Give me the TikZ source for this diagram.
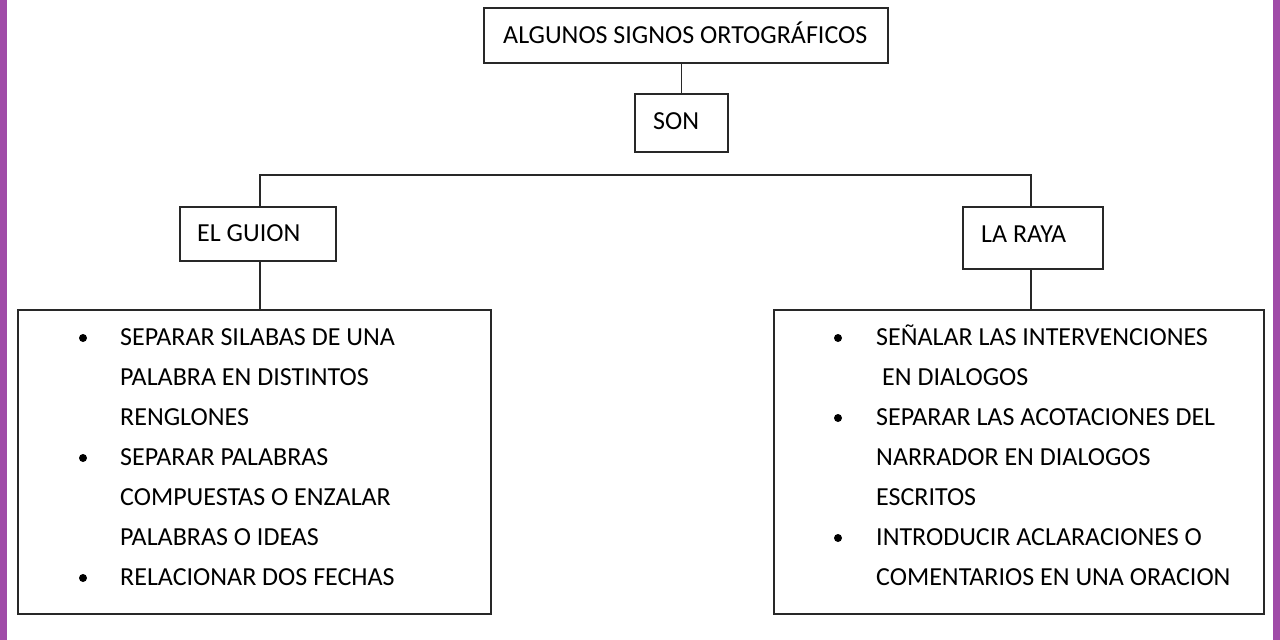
\documentclass[tikz,border=0pt]{standalone}
\usepackage{fontspec}
\setmainfont{Carlito}
\definecolor{bar}{RGB}{160,76,168}
\definecolor{ln}{RGB}{40,40,40}
\begin{document}
\begin{tikzpicture}[x=1pt,y=-1pt,
  box/.style={draw=ln,line width=1.7pt,rectangle,inner sep=0pt,anchor=north west},
  txt/.style={anchor=base west,inner sep=0pt,font=\fontsize{26}{30}\selectfont,text=black},
  conn/.style={draw=ln,line width=1.7pt},
  bul/.style={fill=black,circle,inner sep=0pt,minimum size=8pt}]
\useasboundingbox (0,0) rectangle (1280,640);
\fill[white] (0,0) rectangle (1280,640);
\fill[bar] (0,0) rectangle (7,640);
\fill[bar] (1273,0) rectangle (1280,640);
% boxes
\node[box,minimum width=404pt,minimum height=55pt] (top) at (483,7) {};
\node[box,minimum width=93pt,minimum height=58pt] (son) at (634,93) {};
\node[box,minimum width=156pt,minimum height=54pt] (guion) at (179,206) {};
\node[box,minimum width=140pt,minimum height=62pt] (raya) at (962,206) {};
\node[box,minimum width=473pt,minimum height=304pt] (lbox) at (17,309) {};
\node[box,minimum width=490pt,minimum height=304pt] (rbox) at (773,309) {};
% texts
\node[txt] (ttop) at (503,43) {ALGUNOS SIGNOS ORTOGRÁFICOS};
\node[txt] (tson) at (653,129) {SON};
\node[txt] (tguion) at (197,241) {EL GUION};
\node[txt] (traya) at (981,242) {LA RAYA};
% connectors
\coordinate (jl) at (260,175);
\coordinate (jr) at (1031,175);
\draw[conn] (son.north) -- (son.north |- top.south);
\draw[conn] (jl |- guion.north) -- (jl) -- (jr) -- (jr |- raya.north);
\draw[conn] (jl |- guion.south) -- (jl |- lbox.north);
\draw[conn] (jr |- raya.south) -- (jr |- rbox.north);
% left list
\node[bul] (lb1) at (83,338) {};
\node[bul] (lb2) at (83,458) {};
\node[bul] (lb3) at (83,578) {};
\node[txt] (l1) at (120,345) {SEPARAR SILABAS DE UNA};
\node[txt] (l2) at (120,385) {PALABRA EN DISTINTOS};
\node[txt] (l3) at (120,425) {RENGLONES};
\node[txt] (l4) at (120,465) {SEPARAR PALABRAS};
\node[txt] (l5) at (120,505) {COMPUESTAS O ENZALAR};
\node[txt] (l6) at (120,545) {PALABRAS O IDEAS};
\node[txt] (l7) at (120,585) {RELACIONAR DOS FECHAS};
% right list
\node[bul] (rb1) at (838,338) {};
\node[bul] (rb2) at (838,418) {};
\node[bul] (rb3) at (838,538) {};
\node[txt] (r1) at (876,345) {SEÑALAR LAS INTERVENCIONES};
\node[txt] (r2) at (882,385) {EN DIALOGOS};
\node[txt] (r3) at (876,425) {SEPARAR LAS ACOTACIONES DEL};
\node[txt] (r4) at (876,465) {NARRADOR EN DIALOGOS};
\node[txt] (r5) at (876,505) {ESCRITOS};
\node[txt] (r6) at (876,545) {INTRODUCIR ACLARACIONES O};
\node[txt] (r7) at (876,585) {COMENTARIOS EN UNA ORACION};
\end{tikzpicture}
\end{document}
